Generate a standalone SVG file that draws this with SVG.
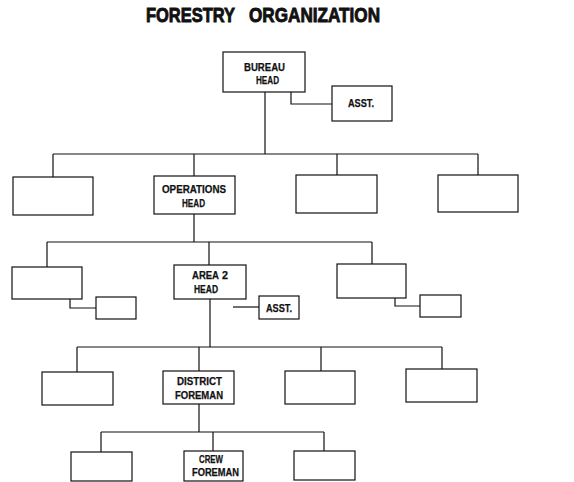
<svg xmlns="http://www.w3.org/2000/svg" width="574" height="482" viewBox="0 0 574 482">
<style>
.b{fill:#fff;stroke:#111;stroke-width:1.2}
.c{fill:none;stroke:#111;stroke-width:1.2}
.t{font-family:"Liberation Sans",Arial,sans-serif;font-weight:bold;font-size:11px;fill:#111;stroke:#111;stroke-width:0.25}
.h{font-family:"Liberation Sans",Arial,sans-serif;font-weight:bold;font-size:20px;fill:#111;stroke:#111;stroke-width:0.9}
</style>
<rect width="574" height="482" fill="#fff"/>
<g id="title">
<text class="h" x="146" y="22" textLength="89" lengthAdjust="spacingAndGlyphs">FORESTRY</text>
<text class="h" x="249" y="22" textLength="131" lengthAdjust="spacingAndGlyphs">ORGANIZATION</text>
</g>
<g id="connectors">
<path class="c" d="M291,92 V104 H332"/>
<path class="c" d="M265,92 V154 M53,154 H478 M53,154 V177 M194,154 V176 M337,154 V175 M478,154 V175"/>
<path class="c" d="M194,214 V242 M47,242 H372 M47,242 V267 M209,242 V265 M372,242 V264"/>
<path class="c" d="M70,299 V308 H96"/>
<path class="c" d="M233,307 H259"/>
<path class="c" d="M395,298 V306 H420"/>
<path class="c" d="M210,299 V347 M77,347 H442 M77,347 V372 M199,347 V371 M321,347 V371 M442,347 V369"/>
<path class="c" d="M199,404 V432 M101,432 H324 M101,432 V452 M213,432 V451 M324,432 V451"/>
</g>
<g id="bureau-head"><rect class="b" x="223" y="52" width="82" height="40"/>
<text class="t" x="244" y="71" textLength="41" lengthAdjust="spacingAndGlyphs">BUREAU</text>
<text class="t" x="256" y="84" textLength="23" lengthAdjust="spacingAndGlyphs">HEAD</text></g>
<g id="bureau-asst"><rect class="b" x="332" y="86" width="60" height="35"/>
<text class="t" x="348" y="107" textLength="26" lengthAdjust="spacingAndGlyphs">ASST.</text></g>
<g id="l2-1"><rect class="b" x="13" y="177" width="80" height="38"/></g>
<g id="operations-head"><rect class="b" x="154" y="176" width="81" height="38"/>
<text class="t" x="162" y="193" textLength="64" lengthAdjust="spacingAndGlyphs">OPERATIONS</text>
<text class="t" x="182" y="207" textLength="23" lengthAdjust="spacingAndGlyphs">HEAD</text></g>
<g id="l2-3"><rect class="b" x="296" y="175" width="81" height="38"/></g>
<g id="l2-4"><rect class="b" x="438" y="175" width="80" height="37"/></g>
<g id="l3-1"><rect class="b" x="12" y="267" width="70" height="32"/></g>
<g id="l3-1-asst"><rect class="b" x="96" y="297" width="40" height="22"/></g>
<g id="area2-head"><rect class="b" x="174" y="265" width="72" height="34"/>
<text class="t" x="192" y="279" textLength="27" lengthAdjust="spacingAndGlyphs">AREA</text>
<text class="t" x="222" y="279" textLength="6" lengthAdjust="spacingAndGlyphs">2</text>
<text class="t" x="194" y="293" textLength="24" lengthAdjust="spacingAndGlyphs">HEAD</text></g>
<g id="area2-asst"><rect class="b" x="259" y="296" width="40" height="23"/>
<text class="t" x="266" y="312" textLength="26" lengthAdjust="spacingAndGlyphs">ASST.</text></g>
<g id="l3-3"><rect class="b" x="337" y="264" width="69" height="34"/></g>
<g id="l3-3-asst"><rect class="b" x="420" y="295" width="41" height="22"/></g>
<g id="l4-1"><rect class="b" x="42" y="372" width="71" height="33"/></g>
<g id="district-foreman"><rect class="b" x="163" y="371" width="71" height="33"/>
<text class="t" x="177" y="385" textLength="45" lengthAdjust="spacingAndGlyphs">DISTRICT</text>
<text class="t" x="175" y="399" textLength="48" lengthAdjust="spacingAndGlyphs">FOREMAN</text></g>
<g id="l4-3"><rect class="b" x="285" y="371" width="70" height="33"/></g>
<g id="l4-4"><rect class="b" x="406" y="369" width="71" height="33"/></g>
<g id="l5-1"><rect class="b" x="71" y="452" width="61" height="29"/></g>
<g id="crew-foreman"><rect class="b" x="184" y="451" width="59" height="30"/>
<text class="t" x="199" y="463" textLength="24" lengthAdjust="spacingAndGlyphs">CREW</text>
<text class="t" x="192" y="476" textLength="47" lengthAdjust="spacingAndGlyphs">FOREMAN</text></g>
<g id="l5-3"><rect class="b" x="294" y="451" width="61" height="29"/></g>
</svg>
